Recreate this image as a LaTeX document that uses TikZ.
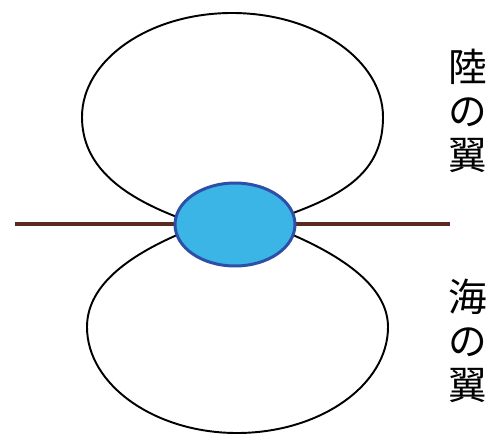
\documentclass[tikz,border=0pt]{standalone}
\usepackage{fontspec}
\usetikzlibrary{shapes.geometric}
\newfontfamily\cjk{Noto Sans CJK JP}
\definecolor{brownline}{HTML}{5A2A1E}
\definecolor{bluefill}{HTML}{3BB4E6}
\definecolor{blueedge}{HTML}{2E4FA8}
\begin{document}
\begin{tikzpicture}[x=0.02cm,y=-0.02cm,
  lobe/.style={draw=black,line width=1.1pt},
  ground/.style={draw=brownline,line width=2.3pt},
  core/.style={ellipse,draw=blueedge,fill=bluefill,line width=1.7pt,minimum width=2.4cm,minimum height=1.66cm,inner sep=0pt},
  vlabel/.style={font=\cjk\fontsize{22}{25}\selectfont,align=center,inner sep=0pt}]
\useasboundingbox (0,0) rectangle (499,436);
% upper lobe
\draw[lobe] (177,217) .. controls (120,195) and (82,165) .. (82,117)
  .. controls (82,60) and (149,13) .. (232,13)
  .. controls (315,13) and (383,60) .. (383,117)
  .. controls (383,168) and (350,192) .. (293,213);
% lower lobe
\draw[lobe] (177,235) .. controls (120,260) and (87,290) .. (87,327)
  .. controls (87,385) and (155,433) .. (237,433)
  .. controls (320,433) and (388,385) .. (388,327)
  .. controls (388,290) and (350,260) .. (293,235);
% ground line
\coordinate (gl) at (15,224);
\coordinate (gr) at (450,224);
\draw[ground] (gl) -- (gr);
% core
\node[core] (c) at (235,224.5) {};
% labels
\node[vlabel] (land) at (468,111) {陸\\の\\翼};
\node[vlabel] (sea) at (468,341) {海\\の\\翼};
\end{tikzpicture}
\end{document}
